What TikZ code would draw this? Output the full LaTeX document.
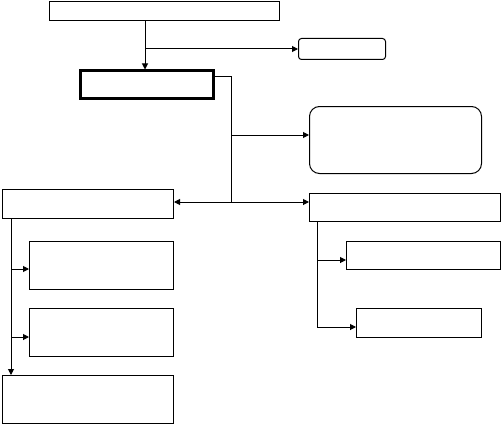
\documentclass[tikz,border=0pt]{standalone}
\usetikzlibrary{arrows.meta}
\begin{document}
\begin{tikzpicture}[x=1pt,y=-1pt,
  box/.style={draw,line width=1pt,inner sep=0pt,anchor=north west},
  ln/.style={line width=1pt},
  arr/.style={line width=1pt,-{Triangle[length=6pt,width=6pt]}}]
\useasboundingbox (0,0) rectangle (502,425);
% boxes: anchor north west at (x,y), sizes in px
\node[box,minimum width=230,minimum height=19] (top) at (49,1) {};
\node[box,minimum width=87,minimum height=21,rounded corners=3pt] (r1) at (298,38) {};
\node[box,line width=3pt,minimum width=133,minimum height=27] (main) at (78.5,69.5) {};
\node[box,minimum width=172,minimum height=67,rounded corners=10pt] (r2) at (309,106) {};
\node[box,minimum width=171,minimum height=29] (left) at (2,189) {};
\node[box,minimum width=191,minimum height=28] (right) at (309,193) {};
\node[box,minimum width=144,minimum height=48] (l1) at (29,241) {};
\node[box,minimum width=144,minimum height=48] (l2) at (29,308) {};
\node[box,minimum width=171,minimum height=48] (l3) at (2,375) {};
\node[box,minimum width=154,minimum height=28] (rr1) at (346,241) {};
\node[box,minimum width=125,minimum height=29] (rr2) at (356,308) {};
% junction coordinates
\coordinate (j1) at (145,49);
\coordinate (m1) at (231,77);
\coordinate (m2) at (231,135);
\coordinate (m3) at (231,202);
\coordinate (lv) at (11,269);
\coordinate (lv2) at (11,337);
\coordinate (rv) at (317,260);
\coordinate (rv2) at (317,327);
% connectors
\draw[arr] (top.south -| j1) -- (main.north -| j1);
\draw[arr] (j1) -- (r1.west |- j1);
\draw[ln] (main.east |- m1) -- (m1) -- (m3);
\draw[arr] (m2) -- (r2.west |- m2);
\draw[arr] (m3) -- (left.east |- m3);
\draw[arr] (m3) -- (right.west |- m3);
\draw[arr] (left.south -| lv) -- (l3.north -| lv);
\draw[arr] (lv) -- (l1.west |- lv);
\draw[arr] (lv2) -- (l2.west |- lv2);
\draw[ln] (right.south -| rv) -- (rv2);
\draw[arr] (rv) -- (rr1.west |- rv);
\draw[arr] (rv2) -- (rr2.west |- rv2);
\end{tikzpicture}
\end{document}
